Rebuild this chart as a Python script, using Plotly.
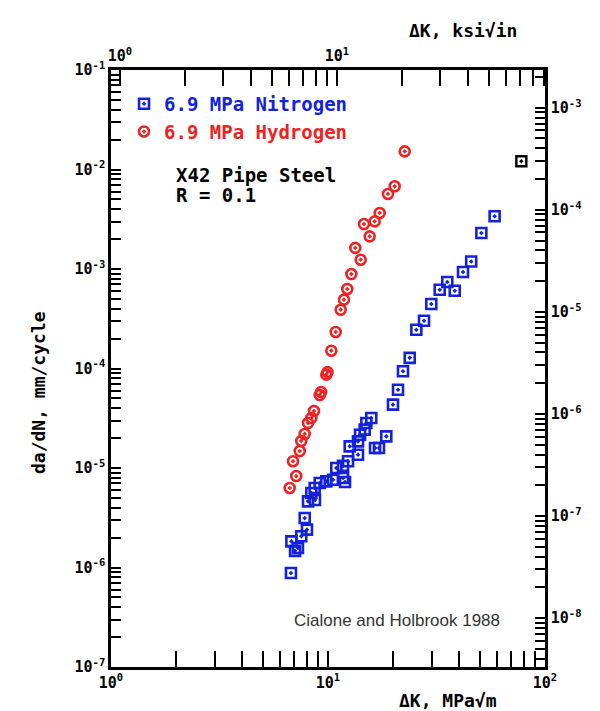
import plotly.graph_objects as go

# ---- data (ΔK in MPa√m, da/dN in mm/cycle) ----
h2_dk = [6.66, 7.14, 6.90, 7.41, 7.53, 7.81, 8.09, 8.38, 8.62, 9.16, 9.30, 9.82, 9.95,
         10.36, 10.85, 11.44, 11.85, 12.27, 12.81, 14.15, 13.36, 15.56, 14.65, 16.41,
         17.31, 18.90, 20.29, 22.57]
h2_rate = [6.3e-6, 8.3e-6, 1.17e-5, 1.48e-5, 1.87e-5, 2.2e-5, 2.83e-5, 3.18e-5, 3.74e-5,
           5.42e-5, 5.8e-5, 8.67e-5, 9.2e-5, 1.51e-4, 2.33e-4, 3.9e-4, 4.92e-4, 6.3e-4,
           8.9e-4, 1.24e-3, 1.63e-3, 2.13e-3, 2.83e-3, 3.01e-3, 3.66e-3, 5.68e-3,
           6.78e-3, 1.52e-2]

n2_dk = [6.75, 7.05, 7.27, 6.78, 7.53, 8.00, 7.81, 8.09, 8.71, 8.38, 8.68, 9.16, 9.82,
         10.55, 11.73, 11.98, 10.92, 11.73, 12.37, 13.75, 12.59, 13.75, 14.05, 14.76,
         15.02, 15.83, 16.47, 17.18, 18.56, 19.93, 21.02, 22.16, 23.80, 25.53, 27.70,
         29.92, 32.72, 35.46, 38.37, 41.9, 45.7, 50.9, 58.6]
n2_rate = [8.8e-7, 1.47e-6, 1.57e-6, 1.83e-6, 2.06e-6, 2.4e-6, 3.14e-6, 4.62e-6, 4.77e-6,
           5.61e-6, 6.3e-6, 7.06e-6, 7.34e-6, 7.62e-6, 7.94e-6, 7.23e-6, 1.0e-5, 1.05e-5,
           1.17e-5, 1.36e-5, 1.65e-5, 1.85e-5, 2.16e-5, 2.43e-5, 2.83e-5, 3.18e-5,
           1.59e-5, 1.59e-5, 2.08e-5, 4.33e-5, 6.12e-5, 9.38e-5, 1.28e-4, 2.45e-4,
           3.02e-4, 4.45e-4, 6.19e-4, 7.4e-4, 6.05e-4, 9.33e-4, 1.19e-3, 2.3e-3, 3.39e-3]

extra_dk = [77.8]
extra_rate = [1.21e-2]

# decade ticks (labelled) and 2..9 ticks (unlabelled)
minor_mult = [2, 3, 4, 5, 6, 7, 8, 9]
x_decades = [1, 10, 100]
x2_decades = [1, 10]
y_decades = [1e-7, 1e-6, 1e-5, 1e-4, 1e-3, 1e-2, 1e-1]
y2_decades = [1e-8, 1e-7, 1e-6, 1e-5, 1e-4, 1e-3]
x_exp = ["0", "1", "2"]
x2_exp = ["0", "1"]
y_exp = ["-7", "-6", "-5", "-4", "-3", "-2", "-1"]
y2_exp = ["-8", "-7", "-6", "-5", "-4", "-3"]


def tick_set(decades, exps, minor_decades):
    vals = list(decades) + [m * d for d in minor_decades for m in minor_mult]
    text = [f"10<sup>{e}</sup>" for e in exps] + [""] * (len(vals) - len(decades))
    return vals, text


x_vals, x_text = tick_set(x_decades, x_exp, [1, 10])
x2_vals, x2_text = tick_set(x2_decades, x2_exp, [1, 10])
y_vals, y_text = tick_set(y_decades, y_exp, [1e-7, 1e-6, 1e-5, 1e-4, 1e-3, 1e-2])
y2_vals, y2_text = tick_set(y2_decades, y2_exp, [1e-9, 1e-8, 1e-7, 1e-6, 1e-5, 1e-4, 1e-3])

BLUE = "#1422dc"
RED = "#ee2222"
MONO = "DejaVu Sans Mono"

fig = go.Figure()
fig.add_trace(go.Scatter(
    x=n2_dk, y=n2_rate, mode="markers",
    name=f"<span style='color:{BLUE}'>6.9 MPa Nitrogen</span>",
    marker=dict(symbol="square-open-dot", size=10, color=BLUE, line=dict(width=2.6, color=BLUE)),
))
fig.add_trace(go.Scatter(
    x=h2_dk, y=h2_rate, mode="markers",
    name=f"<span style='color:{RED}'>6.9 MPa Hydrogen</span>",
    marker=dict(symbol="circle-open-dot", size=10, color=RED, line=dict(width=2.6, color=RED)),
))
fig.add_trace(go.Scatter(
    x=extra_dk, y=extra_rate, mode="markers", showlegend=False,
    marker=dict(symbol="square-open-dot", size=10, color="black", line=dict(width=2.4, color="black")),
))
fig.add_trace(go.Scatter(x=[], y=[], xaxis="x2", yaxis="y2", showlegend=False))

tickfont = dict(family=MONO, size=15, color="black", weight="bold")
common = dict(type="log", showgrid=False, zeroline=False, showline=True, linecolor="black",
              linewidth=2.5, ticks="inside", tickcolor="black", tickwidth=2, tickfont=tickfont)

fig.update_layout(
    width=600, height=711,
    margin=dict(l=103, r=63, t=62, b=52),
    paper_bgcolor="white", plot_bgcolor="white",
    showlegend=True,
    legend=dict(x=0.03, y=0.975, xanchor="left", yanchor="top", bgcolor="rgba(0,0,0,0)",
                font=dict(family=MONO, size=19, weight="bold"), itemwidth=30, tracegroupgap=0),
    xaxis=dict(range=[0, 2], tickvals=x_vals, ticktext=x_text, ticklen=16,
               minor=dict(ticks="inside", ticklen=14, tickwidth=2, dtick="D1", tickcolor="black"),
               **common),
    xaxis2=dict(range=[-0.0409, 1.9591], overlaying="x", side="top", anchor="y",
                tickvals=x2_vals, ticktext=x2_text, ticklen=16,
                minor=dict(ticks="inside", ticklen=14, tickwidth=2, dtick="D1", tickcolor="black"),
                **common),
    yaxis=dict(range=[-7, -1], tickvals=y_vals, ticktext=y_text, ticklen=10,
               minor=dict(ticks="inside", ticklen=8, tickwidth=2, dtick="D1", tickcolor="black"),
               **common),
    yaxis2=dict(range=[-8.48, -2.63], overlaying="y", side="right", anchor="x",
                tickvals=y2_vals, ticktext=y2_text, ticklen=10,
                minor=dict(ticks="inside", ticklen=8, tickwidth=2, dtick="D1", tickcolor="black"),
                **common),
)

def px(xp):
    return (xp - 103) / 434

def py(yp):
    return (659 - yp) / 597

ann_font = dict(family=MONO, size=19, color="black", weight="bold")
fig.add_annotation(x=px(166), y=py(167), xref="paper", yref="paper", text="X42 Pipe Steel",
                   showarrow=False, xanchor="left", yanchor="middle", font=ann_font)
fig.add_annotation(x=px(166), y=py(187), xref="paper", yref="paper", text="R = 0.1",
                   showarrow=False, xanchor="left", yanchor="middle", font=ann_font)
fig.add_annotation(x=px(284), y=py(612), xref="paper", yref="paper", text="Cialone and Holbrook 1988",
                   showarrow=False, xanchor="left", yanchor="middle",
                   font=dict(family="Liberation Sans", size=17, color="#333333"))
fig.add_annotation(x=px(30), y=py(385), xref="paper", yref="paper", text="da/dN, mm/cycle",
                   showarrow=False, textangle=-90, xanchor="center", yanchor="middle",
                   font=dict(family=MONO, size=18, color="black", weight="bold"))
fig.add_annotation(x=px(440), y=py(692), xref="paper", yref="paper", text="ΔK, MPa√m",
                   showarrow=False, xanchor="center", yanchor="middle",
                   font=dict(family=MONO, size=18, color="black", weight="bold"))
fig.add_annotation(x=px(455), y=py(22), xref="paper", yref="paper", text="ΔK, ksi√in",
                   showarrow=False, xanchor="center", yanchor="middle",
                   font=dict(family=MONO, size=18, color="black", weight="bold"))

fig.write_html("out.html")
